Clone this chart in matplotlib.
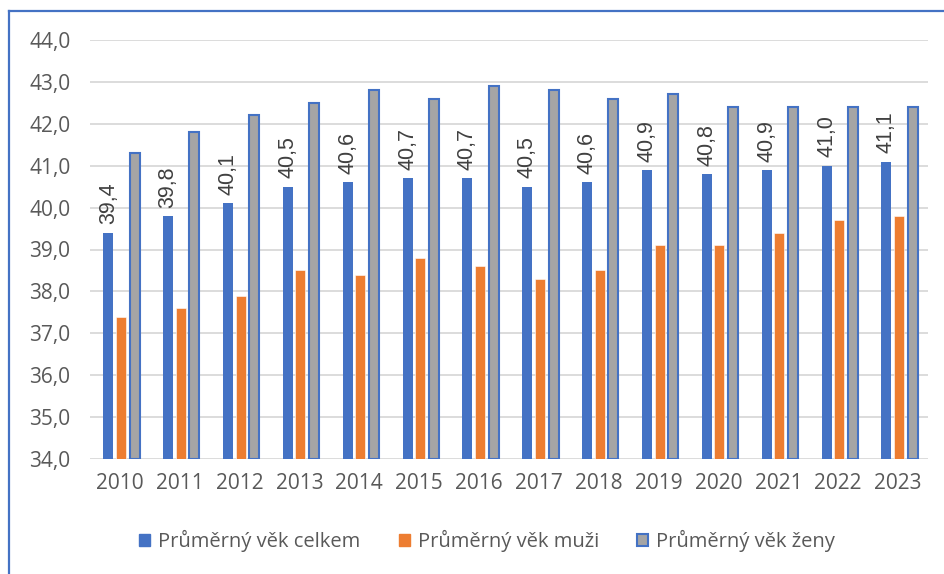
import numpy as np
import matplotlib
matplotlib.use("Agg")
import matplotlib.pyplot as plt
from matplotlib.lines import Line2D
from matplotlib.patches import Patch

years = ["2010", "2011", "2012", "2013", "2014", "2015", "2016",
         "2017", "2018", "2019", "2020", "2021", "2022", "2023"]
celkem = [39.4, 39.8, 40.1, 40.5, 40.6, 40.7, 40.7,
          40.5, 40.6, 40.9, 40.8, 40.9, 41.0, 41.1]
muzi = [37.4, 37.6, 37.9, 38.5, 38.4, 38.8, 38.6,
        38.3, 38.5, 39.1, 39.1, 39.4, 39.7, 39.8]
zeny = [41.3, 41.8, 42.2, 42.5, 42.8, 42.6, 42.9,
        42.8, 42.6, 42.7, 42.4, 42.4, 42.4, 42.4]
labels = ["Průměrný věk celkem", "Průměrný věk muži", "Průměrný věk ženy"]

BLUE = "#4472C4"
ORANGE = "#ED7D31"
GRAY = "#A5A5A5"
TEXT = "#595959"

plt.rcParams["font.family"] = ["Open Sans", "DejaVu Sans"]

fig = plt.figure(figsize=(9.44, 5.74), dpi=100)
ax = fig.add_axes([90 / 944, 1 - 459 / 574, 838 / 944, 419 / 574])

x = np.arange(len(years))
w = 0.168
base = 34.0
ax.bar(x - 0.195, np.array(celkem) - base, w, bottom=base, color=BLUE, zorder=3)
ax.bar(x + 0.015, np.array(muzi) - base, w, bottom=base, color=ORANGE,
       edgecolor="white", linewidth=0.4, zorder=3)
ax.bar(x + 0.245, np.array(zeny) - base, w, bottom=base, color=GRAY,
       edgecolor=BLUE, linewidth=1.5, zorder=3)

for xi, v in zip(x, celkem):
    ax.text(xi - 0.195, v + 0.2, f"{v:.1f}".replace(".", ","),
            rotation=90, ha="center", va="bottom", fontsize=15.5,
            color="#404040", family=["Liberation Sans", "DejaVu Sans"])

ax.set_xlim(-0.5, len(years) - 0.5)
ax.set_ylim(34, 44)
ax.set_yticks(np.arange(34, 44.1, 1))
ax.set_yticklabels([f"{t:.1f}".replace(".", ",") for t in np.arange(34, 44.1, 1)])
ax.set_xticks(x)
ax.set_xticklabels(years)
ax.tick_params(length=0, labelsize=15, labelcolor=TEXT)
ax.tick_params(axis="y", pad=14)
ax.tick_params(axis="x", pad=10)
ax.grid(axis="y", color="#D9D9D9", linewidth=1.3, zorder=0)
ax.set_axisbelow(True)
for s in ax.spines.values():
    s.set_visible(False)

handles = [Patch(facecolor=BLUE, edgecolor=BLUE),
           Patch(facecolor=ORANGE, edgecolor=ORANGE),
           Patch(facecolor=GRAY, edgecolor=BLUE, linewidth=1.5)]
fig.legend(handles, labels, loc="center", bbox_to_anchor=(0.516, 1 - 541 / 574),
           ncol=3, frameon=False, fontsize=14.5, labelcolor=TEXT,
           handlelength=0.55, handleheight=0.55, handletextpad=0.4,
           columnspacing=1.9)

# outer chart border (only top and left edges visible)
fig.add_artist(Line2D([9 / 944, 9 / 944], [0, 1 - 11 / 574],
                      transform=fig.transFigure, color=BLUE, linewidth=1.6))
fig.add_artist(Line2D([9 / 944, 1], [1 - 11 / 574, 1 - 11 / 574],
                      transform=fig.transFigure, color=BLUE, linewidth=1.6))

fig.savefig("out.png", dpi=100, facecolor="white")
